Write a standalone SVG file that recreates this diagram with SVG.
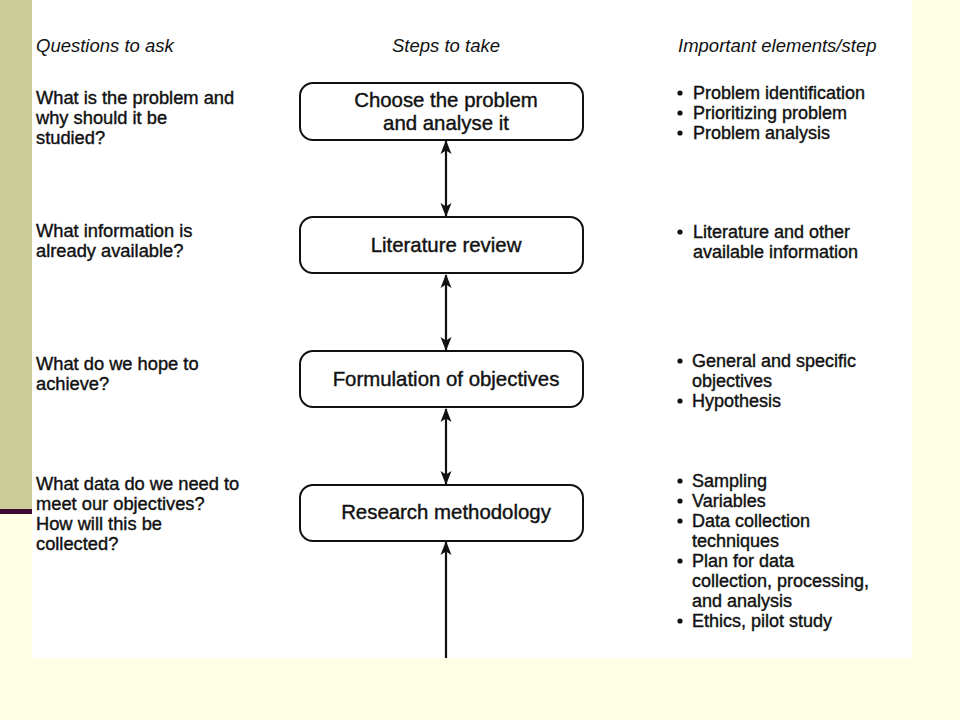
<svg xmlns="http://www.w3.org/2000/svg" width="960" height="720" viewBox="0 0 960 720">
<style>
text{font-family:"Liberation Sans",Arial,Helvetica,sans-serif;fill:#111;}
.h{font-size:18.5px;font-style:italic;}
.q{font-size:18.3px;stroke:#111;stroke-width:0.4;}
.b{font-size:20.4px;text-anchor:middle;stroke:#111;stroke-width:0.4;}
.r{font-size:18px;stroke:#111;stroke-width:0.4;}
.box{fill:none;stroke:#111;stroke-width:2;}
.ln{stroke:#111;stroke-width:2.2;fill:none;}
</style>
<defs>
<marker id="ah" viewBox="0 0 14 12" refX="13" refY="6" markerWidth="14" markerHeight="12" markerUnits="userSpaceOnUse" orient="auto-start-reverse">
<path d="M0,0.5 L14,6 L0,11.5 L3.5,6 Z" fill="#111"/>
</marker>
</defs>
<rect x="0" y="0" width="960" height="720" fill="#FFFFE5"/>
<rect x="0" y="0" width="32" height="510" fill="#CCCC99"/>
<rect x="0" y="509" width="35" height="5" fill="#3A0A33"/>
<rect x="32" y="0" width="880" height="658" fill="#FFFFFF"/>

<g id="headings">
<text class="h" x="36" y="52">Questions to ask</text>
<text class="h" x="446" y="52" text-anchor="middle">Steps to take</text>
<text class="h" x="678" y="52">Important elements/step</text>
</g>

<g id="questions">
<text class="q" x="36" y="104">What is the problem and</text>
<text class="q" x="36" y="124">why should it be</text>
<text class="q" x="36" y="144">studied?</text>
<text class="q" x="36" y="237">What information is</text>
<text class="q" x="36" y="257">already available?</text>
<text class="q" x="36" y="370">What do we hope to</text>
<text class="q" x="36" y="390">achieve?</text>
<text class="q" x="36" y="490">What data do we need to</text>
<text class="q" x="36" y="510">meet our objectives?</text>
<text class="q" x="36" y="530">How will this be</text>
<text class="q" x="36" y="550">collected?</text>
</g>

<g id="connectors">
<line class="ln" x1="446" y1="141" x2="446" y2="216" marker-start="url(#ah)" marker-end="url(#ah)"/>
<line class="ln" x1="446" y1="275" x2="446" y2="350" marker-start="url(#ah)" marker-end="url(#ah)"/>
<line class="ln" x1="446" y1="409" x2="446" y2="484" marker-start="url(#ah)" marker-end="url(#ah)"/>
<line class="ln" x1="446" y1="542" x2="446" y2="658" marker-start="url(#ah)"/>
</g>

<g id="node1">
<rect class="box" x="300" y="83" width="283" height="57" rx="13"/>
<text class="b" x="446" y="107">Choose the problem</text>
<text class="b" x="446" y="130">and analyse it</text>
</g>
<g id="node2">
<rect class="box" x="300" y="217" width="283" height="56" rx="13"/>
<text class="b" x="446" y="252">Literature review</text>
</g>
<g id="node3">
<rect class="box" x="300" y="351" width="283" height="56" rx="13"/>
<text class="b" x="446" y="386">Formulation of objectives</text>
</g>
<g id="node4">
<rect class="box" x="300" y="485" width="283" height="56" rx="13"/>
<text class="b" x="446" y="519">Research methodology</text>
</g>

<g id="elements">
<g fill="#111">
<circle cx="680" cy="93" r="2.6"/>
<circle cx="680" cy="113" r="2.6"/>
<circle cx="680" cy="133" r="2.6"/>
<circle cx="680" cy="232" r="2.6"/>
<circle cx="680" cy="361" r="2.6"/>
<circle cx="680" cy="401" r="2.6"/>
<circle cx="680" cy="481" r="2.6"/>
<circle cx="680" cy="501" r="2.6"/>
<circle cx="680" cy="521" r="2.6"/>
<circle cx="680" cy="561" r="2.6"/>
<circle cx="680" cy="621" r="2.6"/>
</g>
<text class="r" x="693" y="99">Problem identification</text>
<text class="r" x="693" y="119">Prioritizing problem</text>
<text class="r" x="693" y="139">Problem analysis</text>
<text class="r" x="693" y="238">Literature and other</text>
<text class="r" x="693" y="258">available information</text>
<text class="r" x="692" y="367">General and specific</text>
<text class="r" x="692" y="387">objectives</text>
<text class="r" x="692" y="407">Hypothesis</text>
<text class="r" x="692" y="487">Sampling</text>
<text class="r" x="692" y="507">Variables</text>
<text class="r" x="692" y="527">Data collection</text>
<text class="r" x="692" y="547">techniques</text>
<text class="r" x="692" y="567">Plan for data</text>
<text class="r" x="692" y="587">collection, processing,</text>
<text class="r" x="692" y="607">and analysis</text>
<text class="r" x="692" y="627">Ethics, pilot study</text>
</g>
</svg>
